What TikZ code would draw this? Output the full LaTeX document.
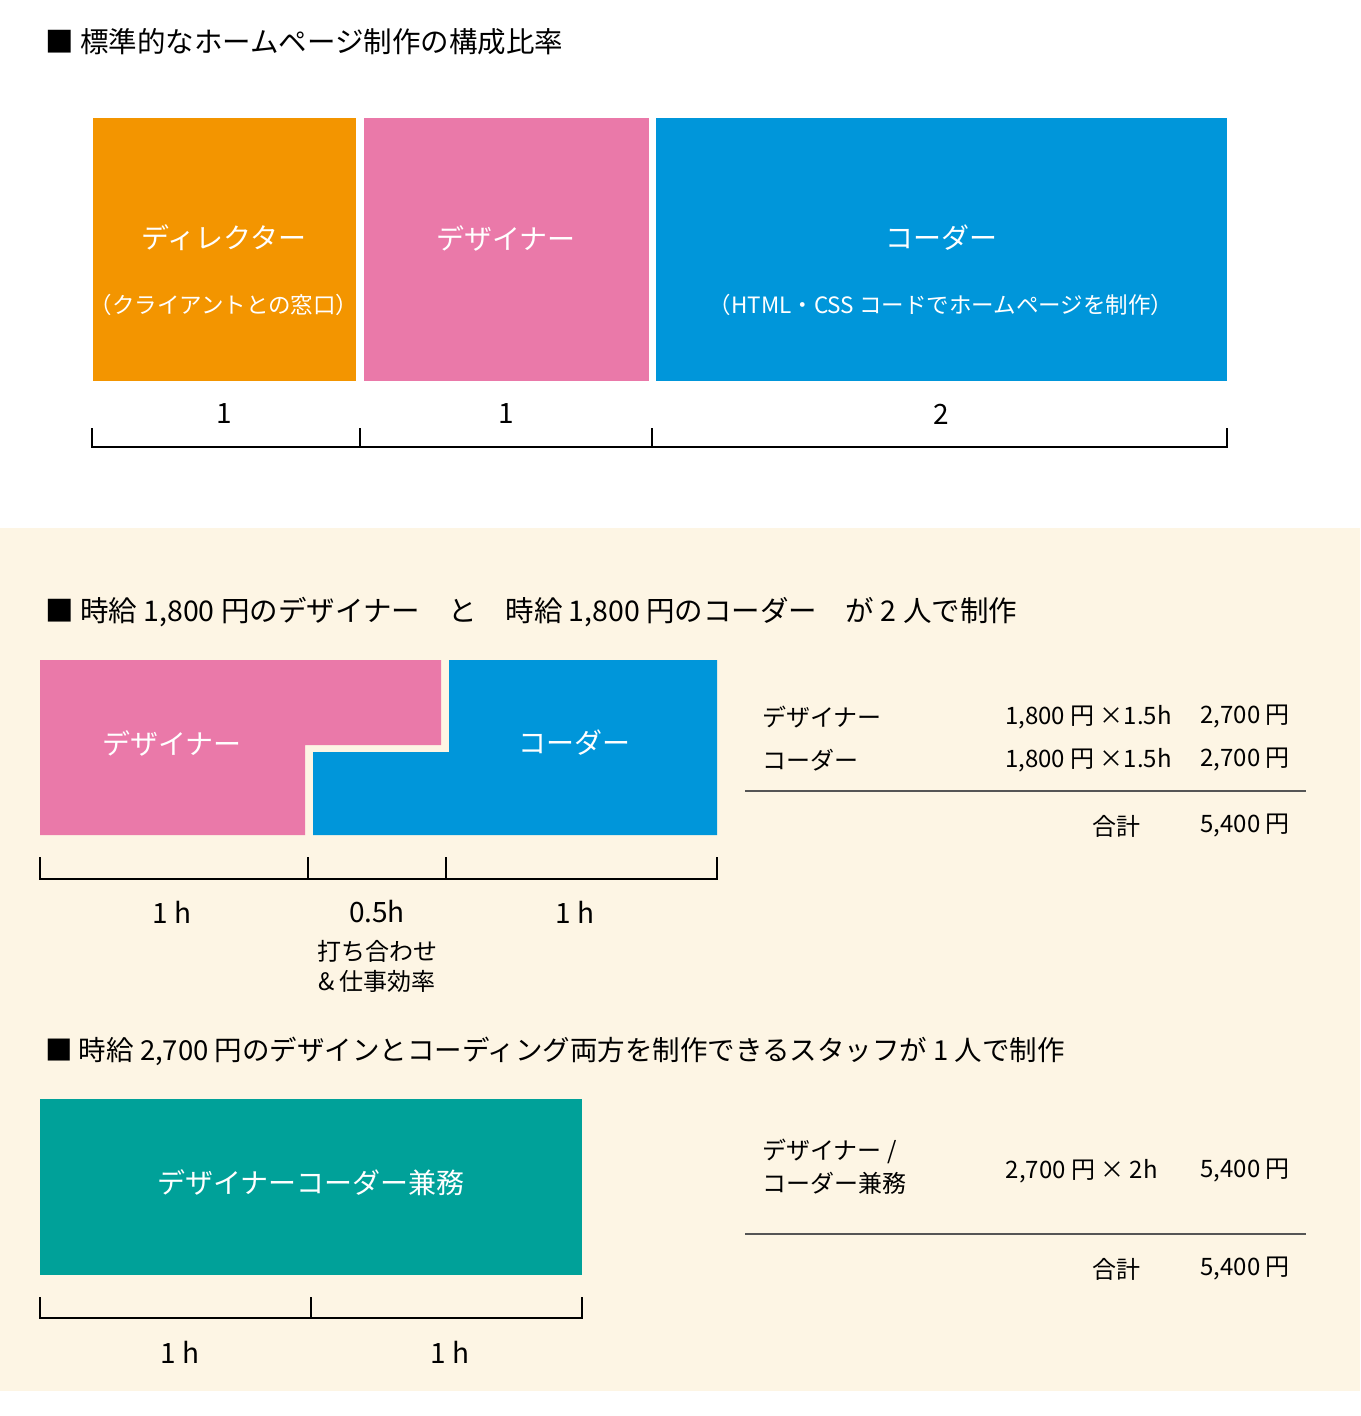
\documentclass[tikz,border=0pt]{standalone}
\usepackage{fontspec}
\setmainfont{Noto Sans CJK JP}
\definecolor{dirorange}{HTML}{F39500}
\definecolor{despink}{HTML}{EA79A9}
\definecolor{codblue}{HTML}{0096DA}
\definecolor{bothteal}{HTML}{00A199}
\definecolor{creambg}{HTML}{FDF5E4}
\definecolor{tablerule}{HTML}{555555}
\begin{document}
\begin{tikzpicture}[
	x = 1pt, y = -1pt,
	every node/.style = {inner sep = 0pt},
	heading/.style = {anchor = west, font = \fontsize{28.5}{31}\selectfont},
	boxtext/.style = {text = white, font = \fontsize{28}{32}\selectfont},
	subtext/.style = {text = white, font = \fontsize{22.5}{26}\selectfont},
	rulelabel/.style = {font = \fontsize{28}{30}\selectfont},
	notetext/.style = {font = \fontsize{24}{28}\selectfont},
	cell/.style = {font = \fontsize{24}{28}\selectfont},
	ruler/.style = {line width = 2.5pt},
	]

	\useasboundingbox (0,0) rectangle (1360,1416);
	\fill[white] (0,0) rectangle (1360,528);
	\fill[creambg] (0,528) rectangle (1360,1391);

	% standard ratio
	\node[heading] (headratio) at (45,42) {■ 標準的なホームページ制作の構成比率};

	\fill[dirorange] (93,118) rectangle (356,381);
	\fill[despink] (364,118) rectangle (649,381);
	\fill[codblue] (656,118) rectangle (1227,381);

	\node[boxtext] (dirname) at (224,238) {ディレクター};
	\node[subtext] (dirnote) at (224,305) {（クライアントとの窓口）};
	\node[boxtext] (desname) at (506,238) {デザイナー};
	\node[boxtext] (codname) at (941,238) {コーダー};
	\node[subtext] (codnote) at (941,305) {（HTML・CSS コードでホームページを制作）};

	\draw[ruler] (92,428) -- (92,447) -- (1227,447) -- (1227,428);
	\draw[ruler] (360,428) -- (360,447);
	\draw[ruler] (652,428) -- (652,447);
	\node[rulelabel] (ratiodir) at (224,414) {1};
	\node[rulelabel] (ratiodes) at (506,414) {1};
	\node[rulelabel] (ratiocod) at (941,414) {2};

	% two people
	\node[heading] (headtwo) at (45,612) {■ 時給 1,800 円のデザイナー　と　時給 1,800 円のコーダー　が 2 人で制作};

	\fill[despink] (40,660) -- (441,660) -- (441,745) -- (305,745) -- (305,835) -- (40,835) -- cycle;
	\fill[codblue] (449,660) -- (717,660) -- (717,835) -- (313,835) -- (313,752) -- (449,752) -- cycle;
	\node[boxtext] (twodes) at (172,743) {デザイナー};
	\node[boxtext] (twocod) at (574,743) {コーダー};

	\draw[ruler] (40,857) -- (40,879) -- (717,879) -- (717,857);
	\draw[ruler] (308,857) -- (308,879);
	\draw[ruler] (446,857) -- (446,879);
	\node[rulelabel] (twohone) at (172,912) {1 h};
	\node[rulelabel] (twohalf) at (377,912) {0.5h};
	\node[rulelabel] (twohtwo) at (575,912) {1 h};
	\node[notetext] (meetnote) at (377,951) {打ち合わせ};
	\node[notetext] (effnote) at (377,981) {\& 仕事効率};

	\node[cell, anchor = west] (rowdes) at (762,717) {デザイナー};
	\node[cell, anchor = east] (rowdescalc) at (1172,717) {1,800 円 ×1.5h};
	\node[cell, anchor = east] (rowdessum) at (1290,717) {2,700 円};
	\node[cell, anchor = west] (rowcod) at (762,760) {コーダー};
	\node[cell, anchor = east] (rowcodcalc) at (1172,760) {1,800 円 ×1.5h};
	\node[cell, anchor = east] (rowcodsum) at (1290,760) {2,700 円};
	\draw[tablerule, line width = 1.2pt] (745,791) -- (1306,791);
	\node[cell, anchor = east] (twototal) at (1141,826) {合計};
	\node[cell, anchor = east] (twototalsum) at (1290,826) {5,400 円};

	% one person
	\node[heading, font = \fontsize{27.5}{31}\selectfont] (headone) at (45,1051) {■ 時給 2,700 円のデザインとコーディング両方を制作できるスタッフが 1 人で制作};

	\fill[bothteal] (40,1099) rectangle (582,1275);
	\node[boxtext] (bothname) at (311,1183) {デザイナーコーダー兼務};

	\draw[ruler] (40,1297) -- (40,1318) -- (582,1318) -- (582,1297);
	\draw[ruler] (311,1297) -- (311,1318);
	\node[rulelabel] (onehone) at (180,1352) {1 h};
	\node[rulelabel] (onehtwo) at (450,1352) {1 h};

	\node[cell, anchor = west] (rowboth) at (762,1151) {デザイナー /};
	\node[cell, anchor = west] (rowbothb) at (762,1183) {コーダー兼務};
	\node[cell, anchor = east] (rowbothcalc) at (1158,1171) {2,700 円 × 2h};
	\node[cell, anchor = east] (rowbothsum) at (1290,1171) {5,400 円};
	\draw[tablerule, line width = 1.2pt] (745,1234) -- (1306,1234);
	\node[cell, anchor = east] (onetotal) at (1141,1269) {合計};
	\node[cell, anchor = east] (onetotalsum) at (1290,1269) {5,400 円};

\end{tikzpicture}
\end{document}
